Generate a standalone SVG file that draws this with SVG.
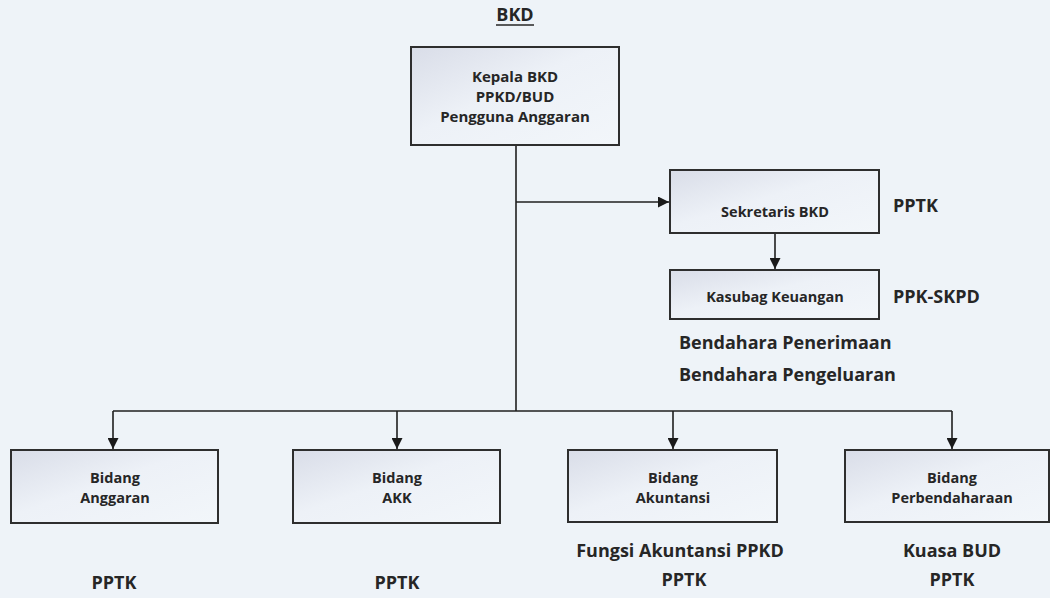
<svg xmlns="http://www.w3.org/2000/svg" width="1050" height="598" viewBox="0 0 1050 598">
<defs>
<linearGradient id="boxfill" x1="0" y1="0" x2="1" y2="1">
<stop offset="0" stop-color="#d9dde8"/>
<stop offset="0.45" stop-color="#edf1f7"/>
<stop offset="1" stop-color="#f2f6fa"/>
</linearGradient>
<marker id="arr" viewBox="0 0 10 10" refX="10" refY="5" markerWidth="11" markerHeight="11" markerUnits="userSpaceOnUse" orient="auto">
<path d="M0,0 L10,5 L0,10 Z" fill="#1a1a1a"/>
</marker>
<style>
.box{fill:url(#boxfill);stroke:#2e2e2e;stroke-width:2}
.t{font-family:"Open Sans","Liberation Sans",sans-serif;font-weight:700;fill:#262626;text-anchor:middle}
.st{text-anchor:start}
.s{font-size:14.5px}
.m{font-size:15px}
.l{font-size:18px}
.ln{fill:none;stroke:#1f1f1f;stroke-width:1.6}
</style>
</defs>
<rect width="1050" height="598" fill="#eef3f8"/>
<text class="t l" x="515" y="21">BKD</text>
<line x1="496" y1="25" x2="534" y2="25" stroke="#262626" stroke-width="1.6"/>
<g id="connectors">
<line class="ln" x1="516" y1="145" x2="516" y2="411"/>
<line class="ln" x1="516" y1="202" x2="669" y2="202" marker-end="url(#arr)"/>
<line class="ln" x1="775" y1="233" x2="775" y2="269" marker-end="url(#arr)"/>
<line class="ln" x1="113" y1="411" x2="952" y2="411"/>
<line class="ln" x1="113" y1="411" x2="113" y2="449" marker-end="url(#arr)"/>
<line class="ln" x1="397" y1="411" x2="397" y2="449" marker-end="url(#arr)"/>
<line class="ln" x1="673" y1="411" x2="673" y2="449" marker-end="url(#arr)"/>
<line class="ln" x1="952" y1="411" x2="952" y2="449" marker-end="url(#arr)"/>
</g>
<g id="kepala">
<rect class="box" x="411" y="47" width="208" height="98"/>
<text class="t m" x="515" y="82">Kepala BKD</text>
<text class="t m" x="515" y="102">PPKD/BUD</text>
<text class="t m" x="515" y="122">Pengguna Anggaran</text>
</g>
<g id="sekretaris">
<rect class="box" x="670" y="170" width="209" height="63"/>
<text class="t s" x="775" y="217">Sekretaris BKD</text>
<text class="t l st" x="893" y="212">PPTK</text>
</g>
<g id="kasubag">
<rect class="box" x="670" y="270" width="209" height="49"/>
<text class="t s" x="775" y="302">Kasubag Keuangan</text>
<text class="t l st" x="893" y="303">PPK-SKPD</text>
<text class="t l st" x="679" y="349">Bendahara Penerimaan</text>
<text class="t l st" x="679" y="381">Bendahara Pengeluaran</text>
</g>
<g id="anggaran">
<rect class="box" x="11" y="450" width="207" height="73"/>
<text class="t s" x="115" y="483">Bidang</text>
<text class="t s" x="115" y="503">Anggaran</text>
<text class="t l" x="114" y="589">PPTK</text>
</g>
<g id="akk">
<rect class="box" x="293" y="450" width="207" height="73"/>
<text class="t s" x="397" y="483">Bidang</text>
<text class="t s" x="397" y="503">AKK</text>
<text class="t l" x="397" y="589">PPTK</text>
</g>
<g id="akuntansi">
<rect class="box" x="568" y="450" width="209" height="72"/>
<text class="t s" x="673" y="483">Bidang</text>
<text class="t s" x="673" y="503">Akuntansi</text>
<text class="t l" x="680" y="557">Fungsi Akuntansi PPKD</text>
<text class="t l" x="684" y="586">PPTK</text>
</g>
<g id="perbendaharaan">
<rect class="box" x="845" y="450" width="204" height="72"/>
<text class="t s" x="952" y="483">Bidang</text>
<text class="t s" x="952" y="503">Perbendaharaan</text>
<text class="t l" x="952" y="557">Kuasa BUD</text>
<text class="t l" x="952" y="586">PPTK</text>
</g>
</svg>
